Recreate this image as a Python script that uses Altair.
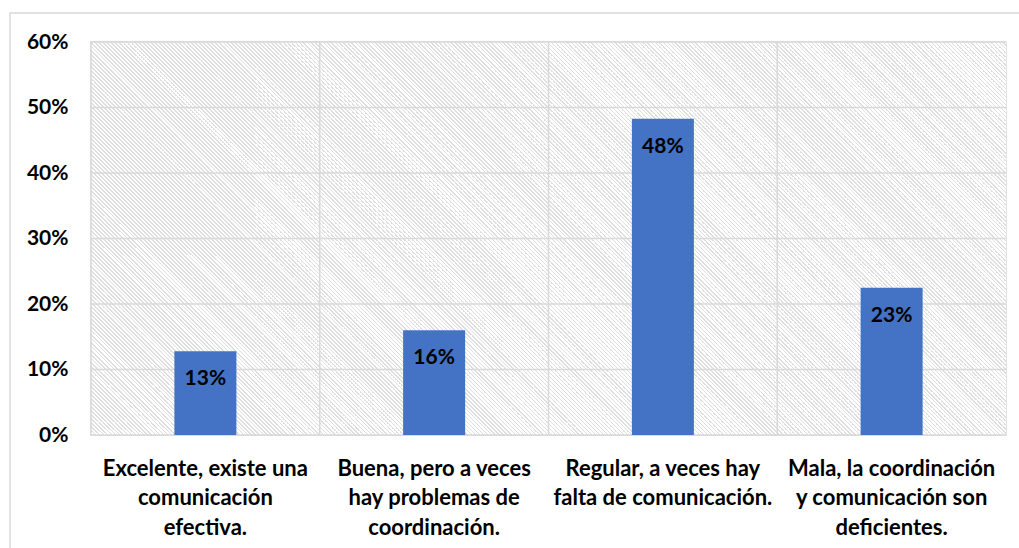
import altair as alt
import pandas as pd

# ---- data ----
categories = [
    "Excelente, existe una\ncomunicación\nefectiva.",
    "Buena, pero a veces\nhay problemas de\ncoordinación.",
    "Regular, a veces hay\nfalta de comunicación.",
    "Mala, la coordinación\ny comunicación son\ndeficientes.",
]
values = [0.128, 0.160, 0.483, 0.225]
labels = ["13%", "16%", "48%", "23%"]
y_ticks = [0.0, 0.1, 0.2, 0.3, 0.4, 0.5, 0.6]

df = pd.DataFrame({"cat": categories, "val": values, "lab": labels})
grid_df = pd.DataFrame({"v": y_ticks})

# ---- layout / style ----
W, H = 915, 393
PAD_L, PAD_T, PAD_R, PAD_B = 91, 42, 13, 113
FONT = "Lato"
GRID = "#d9d9d9"
BAR = "#4472C4"

# diagonal hatch as a striped linear gradient (style only)
r = H / W
tmax = (1 + r) / (1 + r * r)
n_stripes = int((W + H) / 4)
stops = []
f = 0.35
for i in range(n_stripes):
    a = i / n_stripes
    b = (i + f) / n_stripes
    c = (i + 1) / n_stripes
    stops += [
        {"offset": a, "color": "#dedede"},
        {"offset": b, "color": "#dedede"},
        {"offset": b, "color": "#ffffff"},
        {"offset": c, "color": "#ffffff"},
    ]
hatch = {
    "gradient": "linear",
    "x1": 0, "y1": 1,
    "x2": tmax, "y2": 1 - r * tmax,
    "stops": stops,
}

x_scale = alt.Scale(domain=categories, paddingInner=0, paddingOuter=0)
y_scale = alt.Scale(domain=[0, 0.6], nice=False)

x_axis = alt.Axis(
    labelAngle=0,
    labelAlign="center",
    bandPosition=0.5,
    labelExpr="split(datum.label, '\\n')",
    labelFont=FONT,
    labelFontSize=22,
    labelFontWeight="bold",
    labelColor="black",
    labelLineHeight=29.5,
    labelPadding=23,
    labelLimit=400,
    ticks=False,
    tickSize=0,
    domain=False,
    grid=False,
)
y_axis = alt.Axis(
    values=y_ticks,
    format=".0%",
    labelFont=FONT,
    labelFontSize=21,
    labelFontWeight="bold",
    labelColor="black",
    labelPadding=23,
    ticks=False,
    tickSize=0,
    domain=False,
    grid=False,
)

bg = alt.Chart(pd.DataFrame({"a": [0]})).mark_rect(fill=hatch, strokeWidth=0).encode(
    x=alt.value(0), x2=alt.value(W), y=alt.value(0), y2=alt.value(H)
)

outer = alt.Chart(pd.DataFrame({"a": [0]})).mark_rect(
    fill=None, stroke=GRID, strokeWidth=1.5
).encode(
    x=alt.value(-81), x2=alt.value(W + 200), y=alt.value(-29), y2=alt.value(H + 300)
)

hgrid = alt.Chart(grid_df).mark_rule(color=GRID, strokeWidth=1.5).encode(
    y=alt.Y("v:Q", scale=y_scale, title=None, axis=y_axis)
)

vgrid = alt.Chart(df).mark_rule(color=GRID, strokeWidth=1.5).encode(
    x=alt.X("cat:N", scale=x_scale, sort=categories, bandPosition=0, title=None, axis=x_axis)
)

bars = alt.Chart(df).mark_bar(color=BAR, size=62).encode(
    x=alt.X("cat:N", scale=x_scale, sort=categories, title=None, axis=x_axis),
    y=alt.Y("val:Q", scale=y_scale, title=None, axis=y_axis),
)

text = alt.Chart(df).mark_text(
    dy=28, baseline="middle", align="center", font=FONT, fontSize=21,
    fontWeight="bold", color="black"
).encode(
    x=alt.X("cat:N", scale=x_scale, sort=categories, title=None, axis=x_axis),
    y=alt.Y("val:Q", scale=y_scale, title=None, axis=y_axis),
    text="lab:N",
)

chart = alt.layer(outer, bg, hgrid, vgrid, bars, text).properties(
    width=W,
    height=H,
    autosize=alt.AutoSizeParams(type="none"),
    padding={"left": PAD_L, "top": PAD_T, "right": PAD_R, "bottom": PAD_B},
    background="white",
).configure_view(stroke=GRID, strokeWidth=1.5)

chart.save("out.html", embed_options={"renderer": "svg", "actions": False})
